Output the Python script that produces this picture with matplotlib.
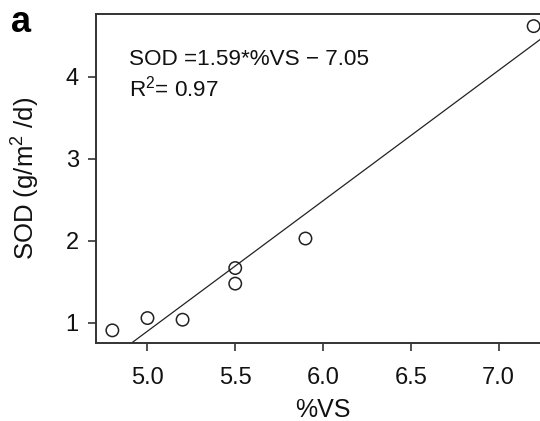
import matplotlib
matplotlib.use("Agg")
import matplotlib.pyplot as plt
import numpy as np

# data
vs = [4.8, 5.0, 5.2, 5.5, 5.5, 5.9, 7.2]
sod = [0.91, 1.06, 1.04, 1.67, 1.48, 2.03, 4.62]
slope, intercept = 1.59, -7.05
xticks = [5.0, 5.5, 6.0, 6.5, 7.0]
yticks = [1, 2, 3, 4]

plt.rcParams['font.family'] = ['Liberation Sans', 'DejaVu Sans']
plt.rcParams['mathtext.fontset'] = 'custom'
plt.rcParams['mathtext.rm'] = 'Liberation Sans'
plt.rcParams['mathtext.it'] = 'Liberation Sans:italic'

fig = plt.figure(figsize=(5.4, 4.21), dpi=100)
# axes runs a little past the right edge, as in the cropped reference
ax = fig.add_axes([95.5 / 540, (421 - 342.5) / 421, 455 / 540, 328.5 / 421])

ax.scatter(vs, sod, s=80, facecolors='none', edgecolors='#222222', linewidths=1.1, zorder=3)

xl = (4.704, 7.296)
yl = (0.762, 4.768)
xx = np.array(xl)
ax.plot(xx, slope * xx + intercept, color='#222222', lw=0.9, zorder=2)
ax.set_xlim(*xl)
ax.set_ylim(*yl)

ax.set_xticks(xticks)
ax.set_xticklabels([f"{t:.1f}" for t in xticks])
ax.set_yticks(yticks)
ax.set_yticklabels([str(t) for t in yticks])
ax.tick_params(axis='x', length=6, width=1.2, pad=12, labelsize=17, colors='#333333', labelcolor='#111111')
ax.tick_params(axis='y', length=6, width=1.2, pad=6, labelsize=17, colors='#333333', labelcolor='#111111')
for s in ax.spines.values():
    s.set_linewidth(1.4)
    s.set_color('#333333')

ax.set_xlabel('%VS', fontsize=18, color='#111111')
ax.xaxis.set_label_coords(0.5, -0.168)
ax.set_ylabel(r'SOD (g/m$^2$ /d)', fontsize=18.5, color='#111111')
ax.yaxis.set_label_coords(-0.118, 0.5)

ax.text(0.0737, 0.8447, 'SOD =1.59*%VS \u2212 7.05', transform=ax.transAxes,
        fontsize=16.2, va='baseline', ha='left', color='#111111')
ax.text(0.0737, 0.748, r'R$^2$= 0.97', transform=ax.transAxes,
        fontsize=16.2, va='baseline', ha='left', color='#111111')

fig.text(11 / 540, (421 - 31.7) / 421, 'a', fontsize=26, fontweight='bold', va='baseline', ha='left')

fig.savefig('out.png', dpi=100)
plt.close(fig)
